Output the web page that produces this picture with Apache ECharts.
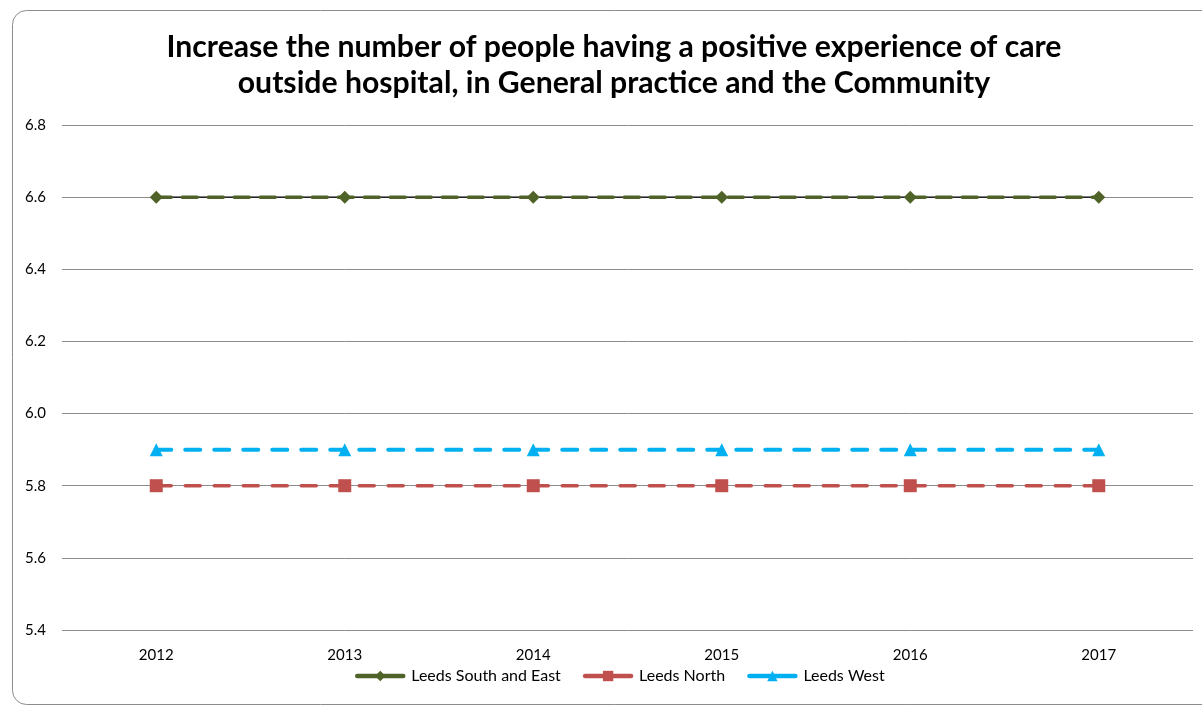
<!DOCTYPE html>
<html>
<head>
<meta charset="utf-8">
<script src="https://cdn.jsdelivr.net/npm/echarts@6/dist/echarts.min.js"></script>
<style>
  html, body { margin: 0; padding: 0; background: #fff; }
  #chart { width: 1202px; height: 710px; }
</style>
</head>
<body>
<div id="chart"></div>
<script>
// Yearly values per area
const years = ['2012', '2013', '2014', '2015', '2016', '2017'];
const southEast = [6.6, 6.6, 6.6, 6.6, 6.6, 6.6];
const north = [5.8, 5.8, 5.8, 5.8, 5.8, 5.8];
const west = [5.9, 5.9, 5.9, 5.9, 5.9, 5.9];
// thin target line drawn underneath the South and East series
const target = [6.6, 6.6, 6.6, 6.6, 6.6, 6.6];

const yMin = 5.4, yMax = 6.8, yStep = 0.2;

const font = 'Lato, "Open Sans", sans-serif';

const chart = echarts.init(document.getElementById('chart'), null, { renderer: 'canvas' });

chart.setOption({
  animation: false,
  backgroundColor: '#ffffff',
  textStyle: { fontFamily: font },
  graphic: [{
    type: 'rect',
    silent: true,
    z: -1,
    shape: { x: 12.5, y: 10.5, width: 1220, height: 694, r: 14 },
    style: { fill: 'none', stroke: '#8c8c8c', lineWidth: 1 }
  }],
  title: {
    text: 'Increase the number of people having a positive experience of care\noutside hospital, in General practice and the Community',
    left: 609,
    top: 24,
    textAlign: 'center',
    textStyle: { fontFamily: font, fontWeight: 'bold', fontSize: 30.2, lineHeight: 36, color: '#000' }
  },
  legend: {
    bottom: 21,
    left: 350,
    itemWidth: 46,
    itemHeight: 13,
    itemGap: 22,
    textStyle: { fontFamily: font, fontSize: 16, color: '#000', padding: [0, 0, 0, 3] },
    lineStyle: { width: 4.5, type: 'solid', cap: 'round' },
    data: ['Leeds South and East', 'Leeds North', 'Leeds West']
  },
  grid: { left: 62, right: 9, top: 125, bottom: 80 },
  xAxis: {
    type: 'category',
    data: years,
    boundaryGap: true,
    axisLine: { show: false },
    axisTick: { show: false },
    axisLabel: { fontFamily: font, fontSize: 15, color: '#000', margin: 18 }
  },
  yAxis: {
    type: 'value',
    min: yMin,
    max: yMax,
    interval: yStep,
    axisLine: { show: false },
    axisTick: { show: false },
    axisLabel: {
      fontFamily: font, fontSize: 15, color: '#000', margin: 16,
      formatter: v => v.toFixed(1)
    },
    splitLine: { lineStyle: { color: '#8c8c8c', width: 1 } }
  },
  series: [
    {
      name: 'target',
      type: 'line',
      data: target,
      symbol: 'none',
      silent: true,
      lineStyle: { color: '#000', width: 1.2 },
      z: 1
    },
    {
      name: 'Leeds South and East',
      type: 'line',
      data: southEast,
      symbol: 'diamond',
      symbolSize: 13,
      itemStyle: { color: '#4F6228' },
      lineStyle: { color: '#4F6228', width: 3.5, type: [15, 11], cap: 'round' },
      z: 3
    },
    {
      name: 'Leeds North',
      type: 'line',
      data: north,
      symbol: 'rect',
      symbolSize: 13,
      itemStyle: { color: '#C0504D' },
      lineStyle: { color: '#C0504D', width: 3.5, type: [15, 14], cap: 'round' },
      z: 3
    },
    {
      name: 'Leeds West',
      type: 'line',
      data: west,
      symbol: 'triangle',
      symbolSize: 13,
      itemStyle: { color: '#00B0F0' },
      lineStyle: { color: '#00B0F0', width: 4, type: [15, 14], cap: 'round' },
      z: 3
    }
  ]
});
</script>
</body>
</html>
